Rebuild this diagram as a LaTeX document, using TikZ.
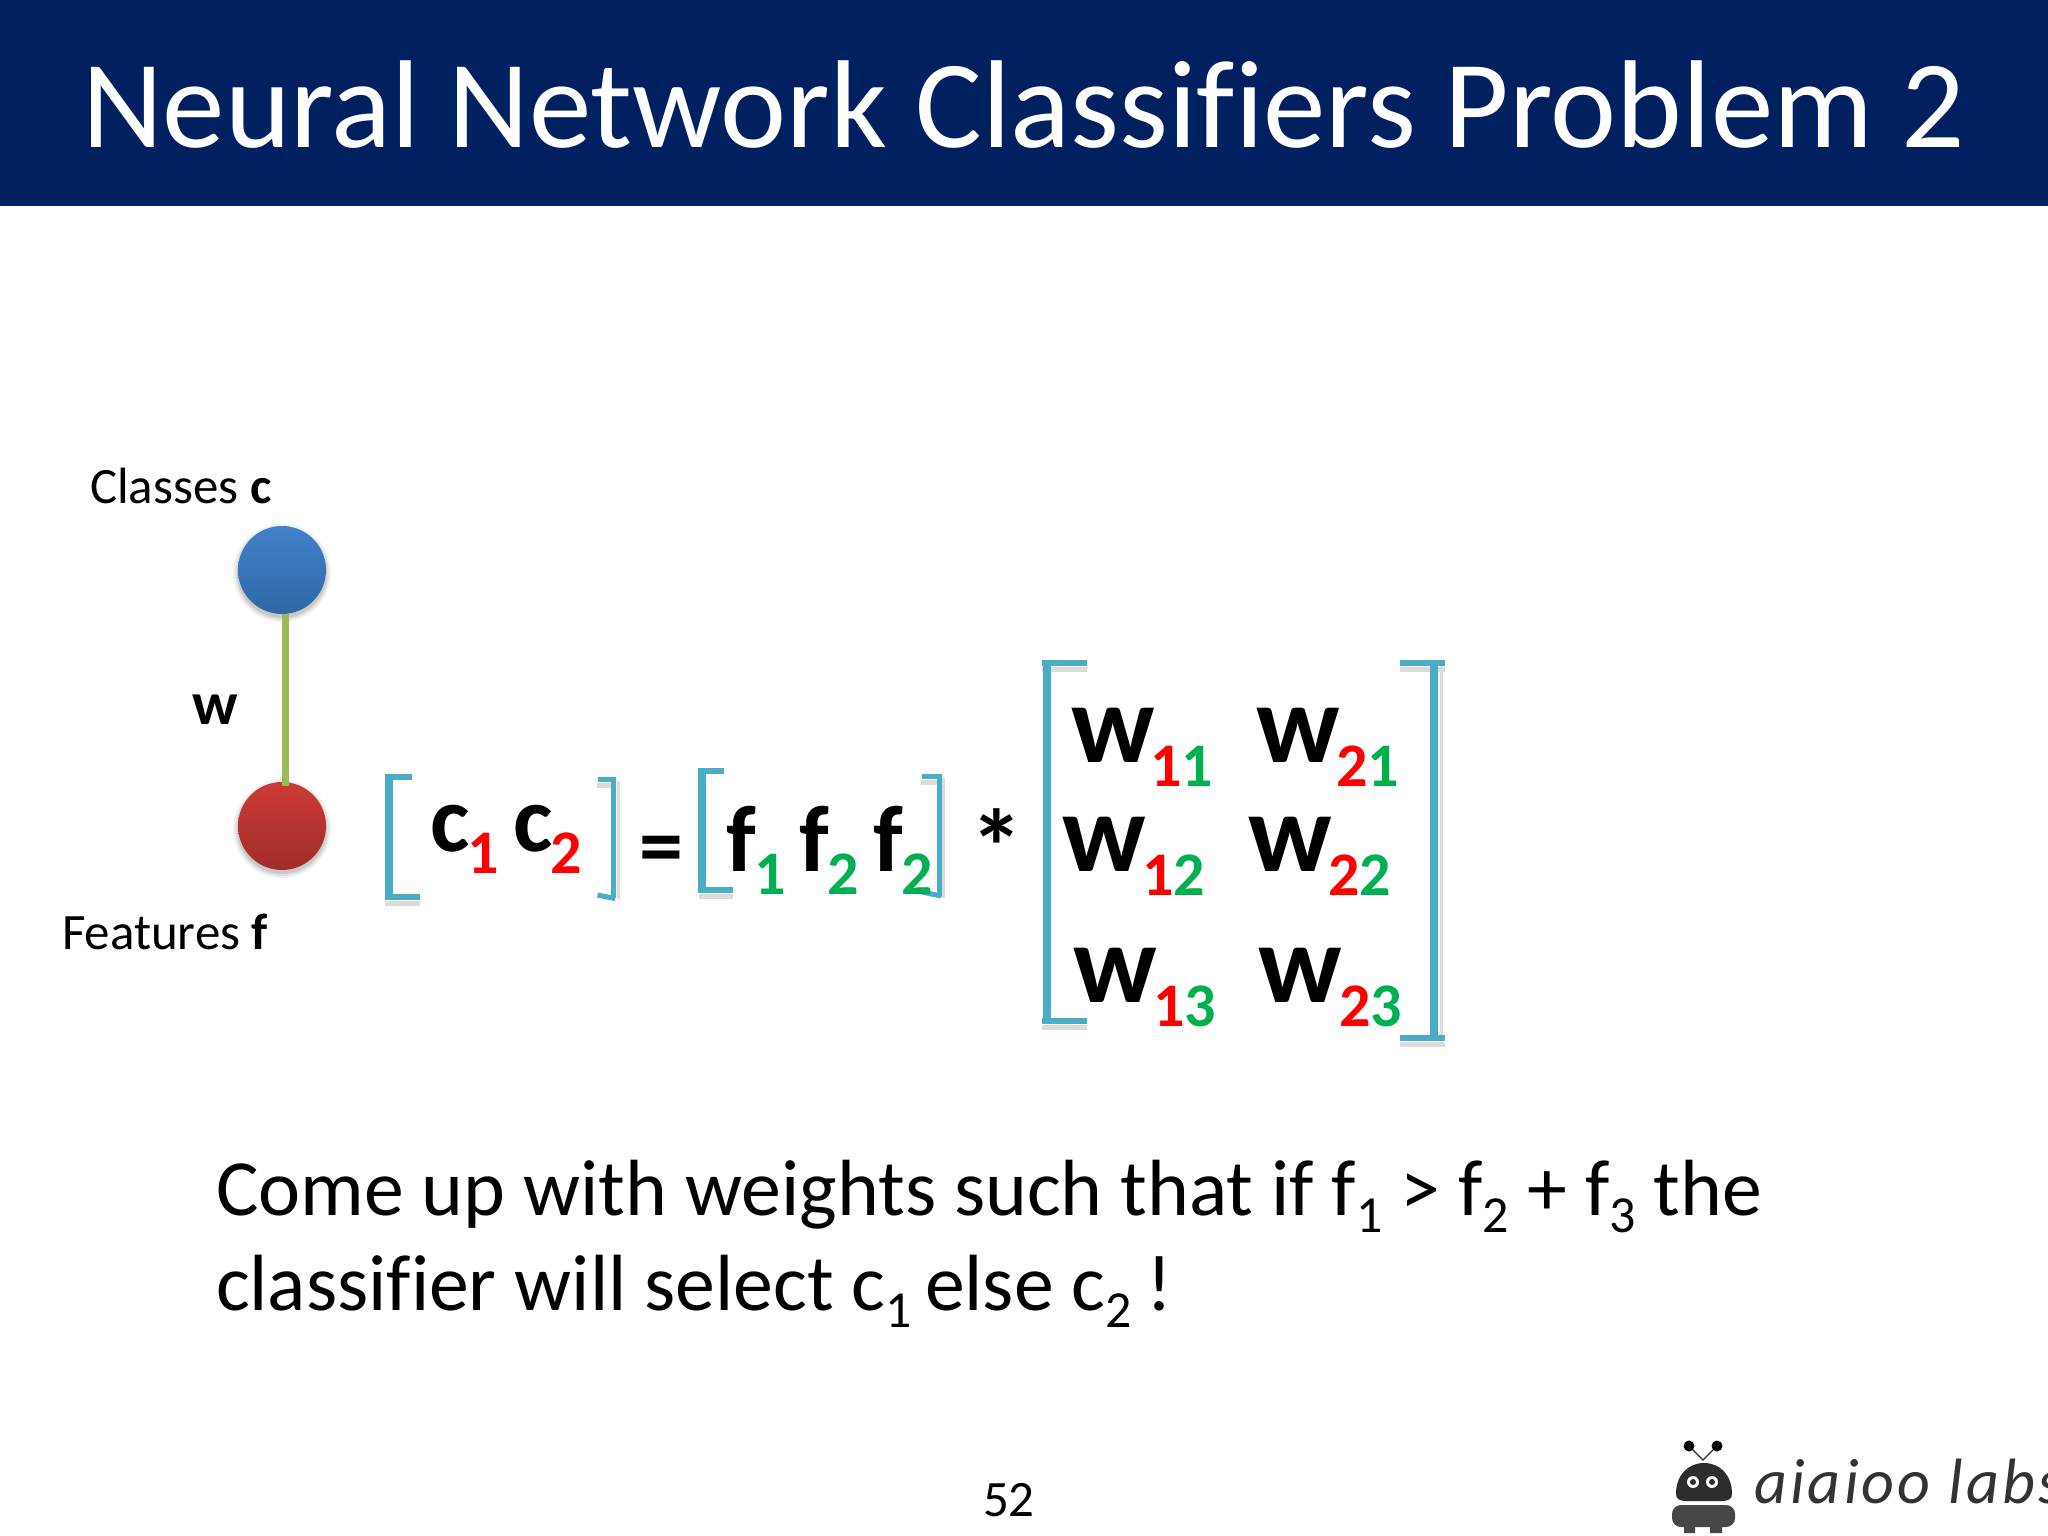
\documentclass[tikz,border=0pt]{standalone}
\usepackage{fontspec}
\setmainfont{Carlito}[Ligatures=NoCommon]
\newfontfamily\logofont{Carlito}
\usetikzlibrary{calc}
\definecolor{banner}{RGB}{0,32,96}
\definecolor{aqua}{RGB}{75,172,198}
\definecolor{subred}{RGB}{255,0,0}
\definecolor{subgreen}{RGB}{0,176,80}
\definecolor{linkgreen}{RGB}{155,187,89}
\definecolor{logodark}{RGB}{45,45,45}
\definecolor{bluetop}{RGB}{66,128,200}
\definecolor{bluebot}{RGB}{46,104,165}
\definecolor{redtop}{RGB}{205,58,54}
\definecolor{redbot}{RGB}{160,44,42}
\newcommand{\fs}[1]{\fontsize{#1}{#1}\selectfont}
\newcommand{\bodysub}[1]{{\fs{52}\raisebox{-17pt}{#1}}}
\tikzset{
  txt/.style={anchor=base west,inner sep=0pt,outer sep=0pt,text=black},
  big/.style={txt,font=\fs{112}\bfseries},
  mid/.style={txt,font=\fs{94}\bfseries},
  subs/.style={txt,font=\fs{62}\bfseries},
  wsub/.style={txt,font=\fs{62}\bfseries},
  body/.style={txt,font=\fs{79.7}},
  label/.style={txt,font=\fs{51}},
  brkv/.style={aqua,line width=8pt},
  brkh/.style={aqua,line width=6pt},
  brkthin/.style={aqua,line width=5pt},
  shd/.style={black!14,line width=5pt},
  ball/.style={circle,minimum size=88pt,inner sep=0pt},
}
% w cell: name, x, y, first digit, second digit, sub x, sub y
\newcommand{\wcell}[7]{%
  \node[big] (w#1) at (#2,#3) {w};
  \node[wsub,text=subred] (w#1a) at (#6,#7) {#4};
  \node[wsub,text=subgreen,anchor=base west] (w#1b) at (w#1a.base east) {#5};
}
\begin{document}
\begin{tikzpicture}[x=1pt,y=-1pt]
\useasboundingbox (0,0) rectangle (2048,1536);
\fill[white] (0,0) rectangle (2048,1536);
\fill[banner] (0,0) rectangle (2048,206);
\node[txt,text=white,font=\fs{125}] (title) at (82,147) {Neural Network Classifiers Problem 2};

% graph at left
\node[label] (classes) at (90,503) {Classes \textbf{c}};
\node[label] (features) at (62,949) {Features \textbf{f}};
\node[txt,font=\fs{61}\bfseries] (wlab) at (192,724) {w};
\foreach \r/\o in {49/.05,47/.07,45/.1}{
  \fill[black,opacity=\o] (282,573) circle (\r);
  \fill[black,opacity=\o] (282,829) circle (\r);
}
\node[ball,top color=bluetop,bottom color=bluebot] (cnode) at (282,570) {};
\node[ball,top color=redtop,bottom color=redbot] (fnode) at (282,826) {};
\draw[linkgreen,line width=7pt] ([xshift=3pt]cnode.south) -- ([shift={(3pt,-4pt)}]fnode.north);

% bracket shadows
\draw[shd] (385,903) -- (420,903) (699,896) -- (733,896);
\draw[shd] (597,785) -- (613,785) (921,782) -- (939,782);
\draw[shd] (1042,669) -- (1087,669) (1400,669) -- (1445,669);
\draw[shd] (1042,1027) -- (1087,1027) (1400,1044) -- (1445,1044);
\draw[shd,line width=3pt] (618,781) -- (618,899) (943,778) -- (943,898) (1441,665) -- (1441,1040);

% brackets c
\draw[brkv] (389,774) -- (389,900);
\draw[brkh] (386,777) -- (412,777) (386,897) -- (420,897);
\draw[brkthin] (597.5,779) -- (615.5,779) (613,776.5) -- (613,898);
\draw[brkthin] (597.5,895) -- (615,898.5);
% brackets f
\draw[brkv] (702,768) -- (702,893);
\draw[brkh] (699,771) -- (724,771) (699,890) -- (733,890);
\draw[brkthin] (922,776) -- (941.5,776) (939,773.5) -- (939,897);
\draw[brkthin] (922,892) -- (941,896);
% brackets w
\draw[brkv] (1047,660) -- (1047,1024);
\draw[brkh] (1042,663) -- (1087,663) (1042,1021) -- (1087,1021);
\draw[brkv] (1434,663) -- (1434,1038);
\draw[brkh] (1400,663) -- (1445,663) (1400,1038) -- (1445,1038);

% c vector
\node[mid] (c1) at (430,851) {c};
\node[subs,text=subred] (c1s) at (467,873) {1};
\node[mid] (c2) at (513,851) {c};
\node[subs,text=subred] (c2s) at (550,873) {2};
\node[txt,font=\fs{88}\bfseries] (eq) at (639,875) {=};
% f vector
\node[mid] (f1) at (726,871) {f};
\node[subs,text=subgreen] (f1s) at (754,894) {1};
\node[mid] (f2) at (799,871) {f};
\node[subs,text=subgreen] (f2s) at (827,894) {2};
\node[mid] (f3) at (873,871) {f};
\node[subs,text=subgreen] (f3s) at (901,894) {2};
\node[txt,font=\fs{106}\bfseries] (star) at (970,884) {*};
% w matrix
\wcell{11}{1071}{762}{1}{1}{1150}{786}
\wcell{21}{1256}{762}{2}{1}{1336}{786}
\wcell{12}{1062}{871}{1}{2}{1142}{895}
\wcell{22}{1248}{871}{2}{2}{1328}{895}
\wcell{13}{1073}{1002}{1}{3}{1153}{1026}
\wcell{23}{1258}{1002}{2}{3}{1339}{1026}

% sentence
\node[body] (line1) at (216,1215) {Come up with weights such that if f\bodysub{1} > f\bodysub{2} + f\bodysub{3} the};
\node[body] (line2) at (216,1310) {classifier will select c\bodysub{1}\hspace{-5pt} else c\bodysub{2}\hspace{-3pt} !};

\node[label] (page) at (983,1516) {52};

% logo
\draw[logodark,line width=1.2pt] (1689,1446) -- (1703,1460) -- (1717,1446);
\fill[black] (1689,1446) circle (5.5) (1717,1446) circle (5.5);
\fill[logodark] (1676,1494) .. controls (1676,1475) and (1688,1463) .. (1704,1463) .. controls (1720,1463) and (1732,1475) .. (1732,1494) .. controls (1732,1499) and (1728,1501) .. (1722,1501) -- (1686,1501) .. controls (1680,1501) and (1676,1499) .. (1676,1494) -- cycle;
\fill[white] (1693,1482) circle (6) (1712,1482) circle (6);
\fill[logodark] (1693,1482) circle (3) (1712,1482) circle (3);
\fill[black!72,rounded corners=9pt] (1672,1505) rectangle (1735,1527);
\fill[black!72] (1684,1522) rectangle (1695,1533) (1710,1522) rectangle (1722,1533);
\node[txt,text=black!80,font=\logofont\fs{64}\itshape] (logo) at (1754,1503) {\addfontfeature{LetterSpace=5}aiaioo labs};
\end{tikzpicture}
\end{document}
